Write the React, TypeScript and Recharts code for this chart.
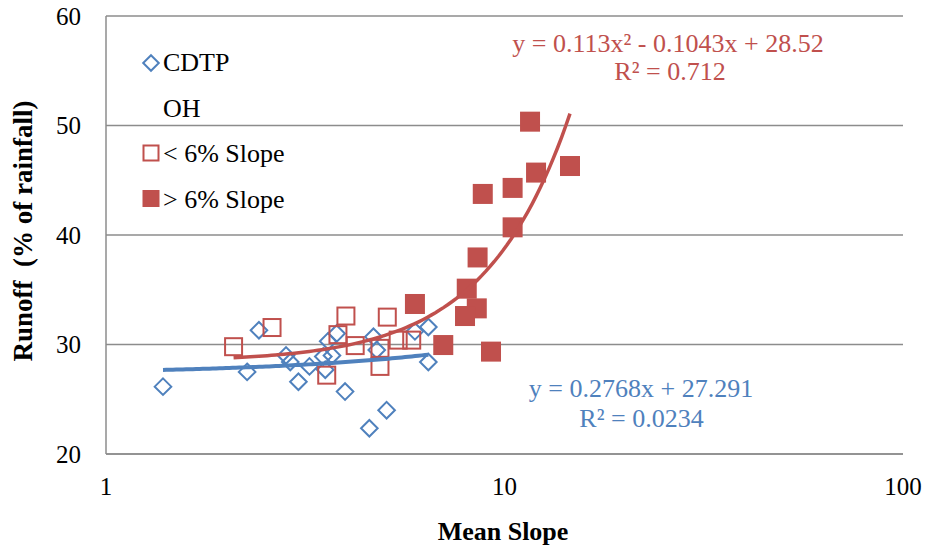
import React from 'react';
import { ScatterChart, Scatter, XAxis, YAxis, CartesianGrid, Legend } from 'recharts';

const BLUE = '#4F81BD';
const RED = '#C0504D';
const GRID = '#8C8C8C';
const FONT = '"Liberation Serif", "Times New Roman", serif';

// CDTP sites: mean slope (%) and runoff (% of rainfall)
const cdtpSlope = [1.39, 2.26, 2.42, 2.83, 2.9, 3.04, 3.24, 3.51, 3.61, 3.69, 3.55, 3.79, 3.98, 4.69, 4.78, 4.58, 5.06, 5.96, 6.44, 6.44];
const cdtpRunoff = [26.15, 27.5, 31.3, 29.0, 28.4, 26.6, 28.0, 28.9, 30.3, 29.0, 27.7, 31.0, 25.7, 30.7, 29.5, 22.35, 24.0, 31.2, 31.6, 28.4];

// OH sites below 6% slope
const lowSlope = [2.09, 2.61, 3.58, 4.0, 3.82, 4.22, 5.08, 4.87, 4.87, 5.41, 5.85];
const lowRunoff = [29.8, 31.55, 27.2, 32.6, 30.9, 29.9, 32.5, 28.0, 29.65, 30.4, 30.4];

// OH sites above 6% slope
const highSlope = [5.96, 7.02, 11.59, 14.6, 12.0, 10.48, 8.82, 10.48, 8.56, 8.04, 8.52, 7.96, 9.25];
const highRunoff = [33.7, 29.95, 50.35, 46.3, 45.7, 44.3, 43.75, 40.7, 37.95, 35.1, 33.3, 32.6, 29.35];

// Trendline coefficients (highest power first)
const cdtpFit = [0.2768, 27.291];
const ohFit = [0.113, -0.1043, 28.52];

const xTicks = [1, 10, 100];
const yTicks = [20, 30, 40, 50, 60];

const legendItems = [
  { name: 'CDTP', icon: 'diamond' },
  { name: 'OH', icon: 'none' },
  { name: '< 6% Slope', icon: 'open' },
  { name: '> 6% Slope', icon: 'filled' },
];

const toPoints = (xs: number[], ys: number[]) => xs.map((x, i) => ({ x, y: ys[i] }));

const evalPoly = (coef: number[], x: number) => coef.reduce((acc, c) => acc * x + c, 0);

// Sample a fitted curve across the x-range of its source data (log spaced, to follow the log axis)
const trendPoints = (coef: number[], xs: number[], n = 80) => {
  const lo = Math.log10(Math.min(...xs));
  const hi = Math.log10(Math.max(...xs));
  const pts = [] as { x: number; y: number }[];
  for (let i = 0; i <= n; i++) {
    const x = Math.pow(10, lo + ((hi - lo) * i) / n);
    pts.push({ x, y: evalPoly(coef, x) });
  }
  return pts;
};

const cdtpData = toPoints(cdtpSlope, cdtpRunoff);
const lowData = toPoints(lowSlope, lowRunoff);
const highData = toPoints(highSlope, highRunoff);
const cdtpTrend = trendPoints(cdtpFit, cdtpSlope);
const ohTrend = trendPoints(ohFit, [...lowSlope, ...highSlope]);

const DiamondShape = (props: any) => {
  const { cx, cy } = props;
  const r = 8.3;
  return (
    <path
      d={`M${cx},${cy - r}L${cx + r},${cy}L${cx},${cy + r}L${cx - r},${cy}Z`}
      fill="none"
      stroke={BLUE}
      strokeWidth={2}
    />
  );
};

const OpenSquare = (props: any) => {
  const { cx, cy } = props;
  const s = 17;
  return <rect x={cx - s / 2} y={cy - s / 2} width={s} height={s} fill="none" stroke={RED} strokeWidth={2} />;
};

const FilledSquare = (props: any) => {
  const { cx, cy } = props;
  const s = 20;
  return <rect x={cx - s / 2} y={cy - s / 2} width={s} height={s} fill={RED} stroke="none" />;
};

const NoShape = () => <g />;

const XTick = (props: any) => {
  const { x, y, payload } = props;
  return (
    <text x={x} y={y + 41} textAnchor="middle" fontFamily={FONT} fontSize={25} fill="#000">
      {payload.value}
    </text>
  );
};

const YTick = (props: any) => {
  const { x, y, payload } = props;
  return (
    <text x={x - 25} y={y} dy="0.34em" textAnchor="end" fontFamily={FONT} fontSize={25} fill="#000">
      {payload.value}
    </text>
  );
};

const LegendIcon = ({ icon }: { icon: string }) => (
  <svg width={20} height={20} style={{ display: 'block', flex: 'none' }}>
    {icon === 'diamond' && <path d="M10,2.2L17.8,10L10,17.8L2.2,10Z" fill="none" stroke={BLUE} strokeWidth={2} />}
    {icon === 'open' && <rect x={2.5} y={1.5} width={15} height={15} fill="none" stroke={RED} strokeWidth={2} />}
    {icon === 'filled' && <rect x={1.5} y={0} width={17} height={17} fill={RED} />}
  </svg>
);

const LegendContent = () => (
  <div style={{ fontFamily: FONT, fontSize: 26, color: '#000' }}>
    {legendItems.map((item) => (
      <div key={item.name} style={{ height: 45.7, display: 'flex', alignItems: 'center' }}>
        <LegendIcon icon={item.icon} />
        <span style={{ marginLeft: 2, whiteSpace: 'pre' }}>{item.name}</span>
      </div>
    ))}
  </div>
);

export default function App() {
  return (
    <div style={{ position: 'absolute', left: 0, top: 0, background: '#fff' }}>
      <ScatterChart width={927} height={546} margin={{ top: 16, right: 24, bottom: 0, left: 0 }}>
        <CartesianGrid vertical={false} stroke={GRID} strokeWidth={1.5} />
        <XAxis
          type="number"
          dataKey="x"
          scale="log"
          domain={[1, 100]}
          ticks={xTicks}
          allowDataOverflow
          height={92}
          tickLine={false}
          tickSize={0}
          tickMargin={0}
          axisLine={{ stroke: GRID, strokeWidth: 1.5 }}
          tick={<XTick />}
        />
        <YAxis
          type="number"
          dataKey="y"
          domain={[20, 60]}
          ticks={yTicks}
          allowDataOverflow
          width={106}
          tickLine={false}
          tickSize={0}
          tickMargin={0}
          axisLine={{ stroke: GRID, strokeWidth: 1.5 }}
          tick={<YTick />}
        />
        <Legend
          layout="vertical"
          align="center"
          verticalAlign="middle"
          content={<LegendContent />}
          wrapperStyle={{ left: 141, top: 40, width: 220 }}
        />
        <Scatter name="CDTP" data={cdtpData} shape={<DiamondShape />} isAnimationActive={false} />
        <Scatter name="< 6% Slope" data={lowData} shape={<OpenSquare />} isAnimationActive={false} />
        <Scatter name="> 6% Slope" data={highData} shape={<FilledSquare />} isAnimationActive={false} />
        <Scatter
          name="CDTP trend"
          data={cdtpTrend}
          shape={<NoShape />}
          line={{ stroke: BLUE, strokeWidth: 4 }}
          legendType="none"
          isAnimationActive={false}
        />
        <Scatter
          name="OH trend"
          data={ohTrend}
          shape={<NoShape />}
          line={{ stroke: RED, strokeWidth: 3.5 }}
          legendType="none"
          isAnimationActive={false}
        />
        <g fontFamily={FONT}>
          <text x={668} y={52} textAnchor="middle" fontSize={26} fill={RED}>
            y = 0.113x² - 0.1043x + 28.52
          </text>
          <text x={670} y={80} textAnchor="middle" fontSize={26} fill={RED}>
            R² = 0.712
          </text>
          <text x={641} y={397} textAnchor="middle" fontSize={26} fill={BLUE}>
            y = 0.2768x + 27.291
          </text>
          <text x={641.5} y={427} textAnchor="middle" fontSize={26} fill={BLUE}>
            R² = 0.0234
          </text>
          <text x={503} y={540} textAnchor="middle" fontSize={26} fontWeight="bold" fill="#000">
            Mean Slope
          </text>
          <text
            x={32}
            y={231}
            textAnchor="middle"
            fontSize={27}
            fontWeight="bold"
            fill="#000"
            transform="rotate(-90, 32, 231)"
            style={{ whiteSpace: 'pre' }}
          >
            {'Runoff  (% of rainfall)'}
          </text>
        </g>
      </ScatterChart>
    </div>
  );
}
